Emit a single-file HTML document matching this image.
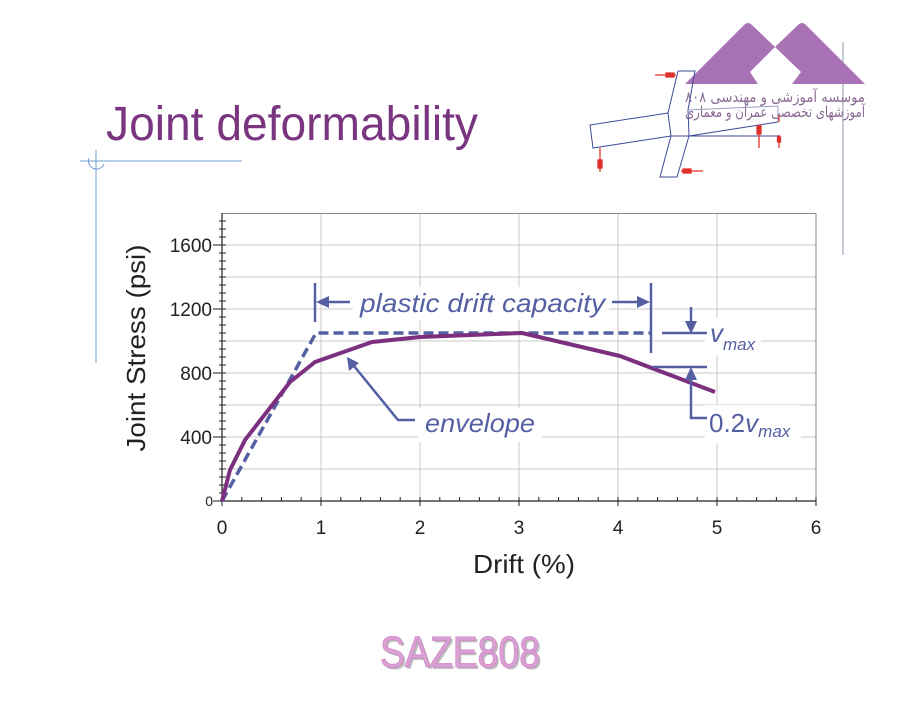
<!DOCTYPE html>
<html><head><meta charset="utf-8"><style>
html,body{margin:0;padding:0;background:#fff;}
svg{display:block;}
</style></head><body>
<svg width="913" height="706" viewBox="0 0 913 706" xmlns="http://www.w3.org/2000/svg">
<rect width="913" height="706" fill="#fff"/>

<!-- decorative lines -->
<g stroke="#6f9fcf" stroke-width="1" fill="none">
<line x1="80" y1="161" x2="242" y2="161"/>
<line x1="96" y1="150" x2="96" y2="363"/>
<path d="M 89 158 A 8 8 0 1 0 104 164"/>
</g>
<line x1="843" y1="42" x2="843" y2="255" stroke="#8a98ae" stroke-width="1"/>

<!-- logo -->
<path d="M685,84 L744,25 Q748,21 752,25 L775,47 L798,25 Q802,21 806,25 L865,84 L792,84 L801,72 L775,47 L750,72 L758,84 Z" fill="#a972b4"/>
<text x="685" y="102" font-family="'DejaVu Sans', sans-serif" font-size="15" fill="#8a6b92" textLength="180" lengthAdjust="spacingAndGlyphs">موسسه آموزشی و مهندسی ۸۰۸</text>
<text x="685" y="117" font-family="'DejaVu Sans', sans-serif" font-size="15" fill="#8a6b92" textLength="180" lengthAdjust="spacingAndGlyphs">آموزشهای تخصصی عمران و معماری</text>

<!-- engineering sketch -->
<g stroke="#3d4a9a" stroke-width="1" fill="none">
<polyline points="678,71 695,71 688,110 689,136 677,177 660,177 671,136 668,113 678,71"/>
<polyline points="668,113 590,125 593,148 671,136"/>
<line x1="671" y1="136" x2="780" y2="136"/>
<line x1="689" y1="136" x2="778" y2="122"/>
<line x1="688" y1="110" x2="778" y2="106" stroke="#9aa0c0"/>
<line x1="778" y1="106" x2="778" y2="122" stroke="#9aa0c0"/>
</g>
<g stroke="#e0302a" stroke-width="1.3" fill="#e0302a">
<line x1="655" y1="75" x2="676" y2="75"/><rect x="666" y="73" width="8" height="4"/>
<line x1="681" y1="171" x2="703" y2="171"/><rect x="683" y="169" width="8" height="4"/>
<line x1="600" y1="148" x2="600" y2="172"/><rect x="598" y="160" width="4" height="8"/>
<line x1="759" y1="125" x2="759" y2="148"/><rect x="757" y="126" width="4" height="8"/>
<line x1="779" y1="135" x2="779" y2="148"/><rect x="777.5" y="137" width="3" height="5"/>
<line x1="779" y1="115" x2="779" y2="122"/>
</g>

<!-- title -->
<text x="106" y="140" font-family="'Liberation Sans', sans-serif" font-size="48" fill="#7a3581" textLength="372" lengthAdjust="spacingAndGlyphs">Joint deformability</text>

<!-- grid -->
<g stroke="#c8c8c8" stroke-width="1">
<line x1="222" y1="469" x2="816" y2="469"/>
<line x1="222" y1="437" x2="816" y2="437"/>
<line x1="222" y1="405" x2="816" y2="405"/>
<line x1="222" y1="373" x2="816" y2="373"/>
<line x1="222" y1="341" x2="816" y2="341"/>
<line x1="222" y1="309" x2="816" y2="309"/>
<line x1="222" y1="277" x2="816" y2="277"/>
<line x1="222" y1="245" x2="816" y2="245"/>
<line x1="321" y1="213" x2="321" y2="501"/>
<line x1="420" y1="213" x2="420" y2="501"/>
<line x1="519" y1="213" x2="519" y2="501"/>
<line x1="618" y1="213" x2="618" y2="501"/>
<line x1="717" y1="213" x2="717" y2="501"/>
</g>
<g stroke="#8a8a8a" stroke-width="1">
<line x1="222" y1="213.5" x2="816" y2="213.5"/>
<line x1="816" y1="213" x2="816" y2="501"/>
</g>

<!-- white label boxes -->
<g fill="#fff">
<rect x="353" y="287" width="256" height="33"/>
<rect x="418" y="408" width="124" height="34"/>
<rect x="705" y="318" width="56" height="37"/>
<rect x="705" y="405" width="96" height="38"/>
</g>

<!-- axes -->
<g stroke="#222" stroke-width="1.2">
<line x1="222" y1="213" x2="222" y2="501"/>
<line x1="222" y1="501" x2="816" y2="501"/>
</g>
<g stroke="#222" stroke-width="1">
<path d="M219,493h7M219,485h7M219,477h7M219,469h7M219,461h7M219,453h7M219,445h7M219,437h7M219,429h7M219,421h7M219,413h7M219,405h7M219,397h7M219,389h7M219,381h7M219,373h7M219,365h7M219,357h7M219,349h7M219,341h7M219,333h7M219,325h7M219,317h7M219,309h7M219,301h7M219,293h7M219,285h7M219,277h7M219,269h7M219,261h7M219,253h7M219,245h7M219,237h7M219,229h7M219,221h7"/>
<path d="M213,501h9M213,437h9M213,373h9M213,309h9M213,245h9"/>
<path d="M241.8,497v4M261.6,497v4M281.4,497v4M301.2,497v4M340.8,497v4M360.6,497v4M380.4,497v4M400.2,497v4M439.8,497v4M459.6,497v4M479.4,497v4M499.2,497v4M538.8,497v4M558.6,497v4M578.4,497v4M598.2,497v4M637.8,497v4M657.6,497v4M677.4,497v4M697.2,497v4M736.8,497v4M756.6,497v4M776.4,497v4M796.2,497v4"/>
<path d="M222,497v9M321,497v9M420,497v9M519,497v9M618,497v9M717,497v9M816,497v9"/>
</g>

<!-- tick labels -->
<g font-family="'Liberation Sans', sans-serif" font-size="19" fill="#222">
<text x="212" y="252" text-anchor="end">1600</text>
<text x="212" y="316" text-anchor="end">1200</text>
<text x="212" y="380" text-anchor="end">800</text>
<text x="212" y="444" text-anchor="end">400</text>
<text x="213" y="506" text-anchor="end" font-size="14">0</text>
<text x="222" y="534" text-anchor="middle">0</text>
<text x="321" y="534" text-anchor="middle">1</text>
<text x="420" y="534" text-anchor="middle">2</text>
<text x="519" y="534" text-anchor="middle">3</text>
<text x="618" y="534" text-anchor="middle">4</text>
<text x="717" y="534" text-anchor="middle">5</text>
<text x="816" y="534" text-anchor="middle">6</text>
</g>

<!-- axis titles -->
<text x="524" y="573" text-anchor="middle" font-family="'Liberation Sans', sans-serif" font-size="26" fill="#222" textLength="102" lengthAdjust="spacingAndGlyphs">Drift (%)</text>
<text transform="translate(145,348) rotate(-90)" x="0" y="0" text-anchor="middle" font-family="'Liberation Sans', sans-serif" font-size="26" fill="#222" textLength="207" lengthAdjust="spacingAndGlyphs">Joint Stress (psi)</text>

<!-- series -->
<polyline points="222,501 316,333 651,333" fill="none" stroke="#5560a3" stroke-width="3.5" stroke-dasharray="10,5"/>
<polyline points="222,501 230,470 245,440 290,382 315,362 372,342 420,337 522,333 620,356 715,392" fill="none" stroke="#7b2f7e" stroke-width="4" stroke-linejoin="round"/>

<!-- annotations -->
<g stroke="#5560a3" stroke-width="2.5" fill="none">
<line x1="315" y1="283" x2="315" y2="322"/>
<line x1="326" y1="302" x2="350" y2="302"/>
<line x1="651" y1="283" x2="651" y2="353"/>
<line x1="612" y1="302" x2="640" y2="302"/>
<line x1="691" y1="307" x2="691" y2="324"/>
<line x1="662" y1="333" x2="707" y2="333"/>
<line x1="653" y1="367" x2="707" y2="367"/>
<polyline points="691,376 691,418 707,418"/>
<polyline points="354,366 398,420 415,420"/>
</g>
<g fill="#5560a3">
<polygon points="316,302 329,296 329,308"/>
<polygon points="650,302 637,296 637,308"/>
<polygon points="691,334 685,321 697,321"/>
<polygon points="691,367 685,380 697,380"/>
<polygon points="347,357 349,371 359,363"/>
</g>
<g font-family="'Liberation Sans', sans-serif" font-style="italic" fill="#5560a3">
<text x="360" y="312" font-size="26" textLength="245" lengthAdjust="spacingAndGlyphs">plastic drift capacity</text>
<text x="425" y="432" font-size="26" textLength="110" lengthAdjust="spacingAndGlyphs">envelope</text>
<text x="710" y="342" font-size="26">v</text>
<text x="723" y="350" font-size="17">max</text>
</g>
<text x="709" y="432" font-family="'Liberation Sans', sans-serif" font-size="26" fill="#5560a3">0.2<tspan font-style="italic">v</tspan><tspan font-style="italic" font-size="17" dy="5">max</tspan></text>

<!-- watermark -->
<g font-family="'Liberation Sans', sans-serif" font-size="44">
<text x="382" y="669" fill="#bdbdbd" textLength="160" lengthAdjust="spacingAndGlyphs">SAZE808</text>
<text x="380" y="667" fill="#dca2d6" stroke="#d08ac8" stroke-width="1" textLength="160" lengthAdjust="spacingAndGlyphs">SAZE808</text>
</g>
</svg>
</body></html>
